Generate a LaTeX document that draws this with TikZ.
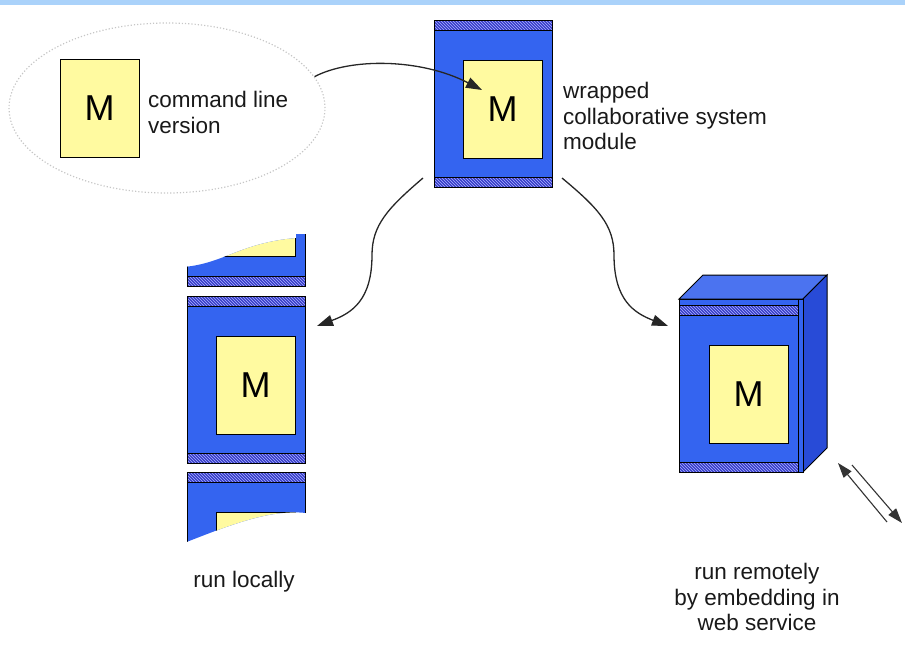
\documentclass[tikz,border=0pt]{standalone}
\usepackage{fontspec}
\setmainfont{Liberation Sans}
\usetikzlibrary{patterns,arrows.meta,shapes.geometric}
\definecolor{modblue}{RGB}{52,100,240}
\definecolor{topblue}{RGB}{75,115,240}
\definecolor{sideblue}{RGB}{40,75,215}
\definecolor{hatchblue}{RGB}{55,60,200}
\definecolor{hatchline}{RGB}{170,180,255}
\definecolor{myyellow}{RGB}{255,250,160}
\definecolor{topband}{RGB}{170,210,250}
\tikzset{
  blueface/.style={draw=black, line width=1pt, fill=modblue, inner sep=0pt, outer sep=0pt, anchor=north west},
  hatchbar/.style={draw=black, line width=0.8pt, preaction={fill=hatchblue}, pattern=north west lines, pattern color=hatchline, inner sep=0pt, outer sep=0pt, anchor=north west, minimum height=10pt},
  ybox/.style={draw=black, line width=1pt, fill=myyellow, inner sep=0pt, outer sep=0pt, anchor=north west, minimum width=79pt, minimum height=98pt, font=\fontsize{36}{36}\selectfont},
  txt/.style={font=\fontsize{22.5}{25.5}\selectfont, inner sep=0pt, text=black!90},
  conn/.style={-{Triangle[length=16pt,width=11pt]}, line width=1.3pt, black!85},
  thinconn/.style={line width=1.1pt, black!80},
}
\begin{document}
\begin{tikzpicture}[x=1pt,y=-1pt]
\useasboundingbox (0,0) rectangle (905,651);
\fill[topband] (0,0) rectangle (905,5);

% command line version
\node[draw=gray!45, dotted, line width=1.2pt, ellipse, minimum width=316pt, minimum height=170pt, inner sep=0pt] (cmdgroup) at (167,108) {};
\node[ybox] (mcmd) at (60,59) {M};
\node[txt, align=left, anchor=north west] (cmdtxt) at (148,91) {command line\\version};

% central wrapped module
\node[blueface, minimum width=118pt, minimum height=167pt] (wrap) at (434,20) {};
\node[hatchbar, minimum width=118pt] (wraptop) at (434,20) {};
\node[hatchbar, minimum width=118pt] (wrapbot) at (434,177) {};
\node[ybox] (mwrap) at (463,60) {M};
\node[txt, align=left, anchor=north west] (wraptxt) at (563,82) {wrapped\\collaborative system\\module};

% local stack: top partial piece
\begin{scope}
  \clip (184,267) .. controls (225,263) and (240,243) .. (296,238) -- (296,234) -- (309,234) -- (309,300) -- (184,300) -- cycle;
  \node[blueface, minimum width=118pt, minimum height=167pt] (loctopmod) at (187,119) {};
  \node[hatchbar, minimum width=118pt] (loctopbar) at (187,276) {};
  \node[ybox] (loctopm) at (216,158) {};
\end{scope}
% local stack: full module
\node[blueface, minimum width=118pt, minimum height=167pt] (loc) at (187,296) {};
\node[hatchbar, minimum width=118pt] (loctop) at (187,296) {};
\node[hatchbar, minimum width=118pt] (locbot) at (187,453) {};
\node[ybox] (mloc) at (216,336) {M};
% local stack: bottom partial piece
\begin{scope}
  \clip (184,470) -- (309,470) -- (309,513) -- (306,513) .. controls (270,509) and (230,525) .. (184,543) -- cycle;
  \node[blueface, minimum width=118pt, minimum height=167pt] (locbotmod) at (187,472) {};
  \node[hatchbar, minimum width=118pt] (locbotbar) at (187,472) {};
  \node[ybox] (locbotm) at (216,512) {};
\end{scope}
\node[txt, anchor=base] (loctxt) at (244,587) {run locally};

% remote cube
\fill[topblue, draw=black, line width=1pt] (679,299) -- (703,275) -- (827,275) -- (803,299) -- cycle;
\fill[sideblue, draw=black, line width=1pt] (803,299) -- (827,275) -- (827,448) -- (803,472) -- cycle;
\node[blueface, minimum width=124pt, minimum height=173pt] (cube) at (679,299) {};
\draw[line width=0.8pt] (798,299) -- (798,472);
\node[hatchbar, minimum width=119pt] (cubetop) at (679,305) {};
\node[hatchbar, minimum width=119pt] (cubebot) at (679,462) {};
\node[ybox] (mcube) at (709,345) {M};
\node[txt, align=center, anchor=north] (remtxt) at (757,563) {run remotely\\by embedding in\\web service};

% connectors
\coordinate (fromcmd) at (cmdgroup.12);
\coordinate (intoM) at (482,90);
\draw[conn] (fromcmd) .. controls (350,58) and (420,58) .. (intoM);

\coordinate (wrapL) at (423,178);
\coordinate (wrapR) at (562,178);
\coordinate (locin) at (317,326);
\coordinate (cubein) at (668,326);
\coordinate (midL) at (372,255);
\coordinate (midR) at (614,255);
\draw[conn] (wrapL) .. controls (388,208) and (372,225) .. (midL) .. controls (372,300) and (352,313) .. (locin);
\draw[conn] (wrapR) .. controls (598,208) and (614,225) .. (midR) .. controls (614,300) and (634,313) .. (cubein);

\coordinate (dA1) at (838,463);
\coordinate (dA2) at (887,522);
\coordinate (dB1) at (852,465);
\coordinate (dB2) at (902,523);
\draw[thinconn, {Triangle[length=15pt,width=10pt]}-] (dA1) -- (dA2);
\draw[thinconn, -{Triangle[length=15pt,width=10pt]}] (dB1) -- (dB2);
\end{tikzpicture}
\end{document}
